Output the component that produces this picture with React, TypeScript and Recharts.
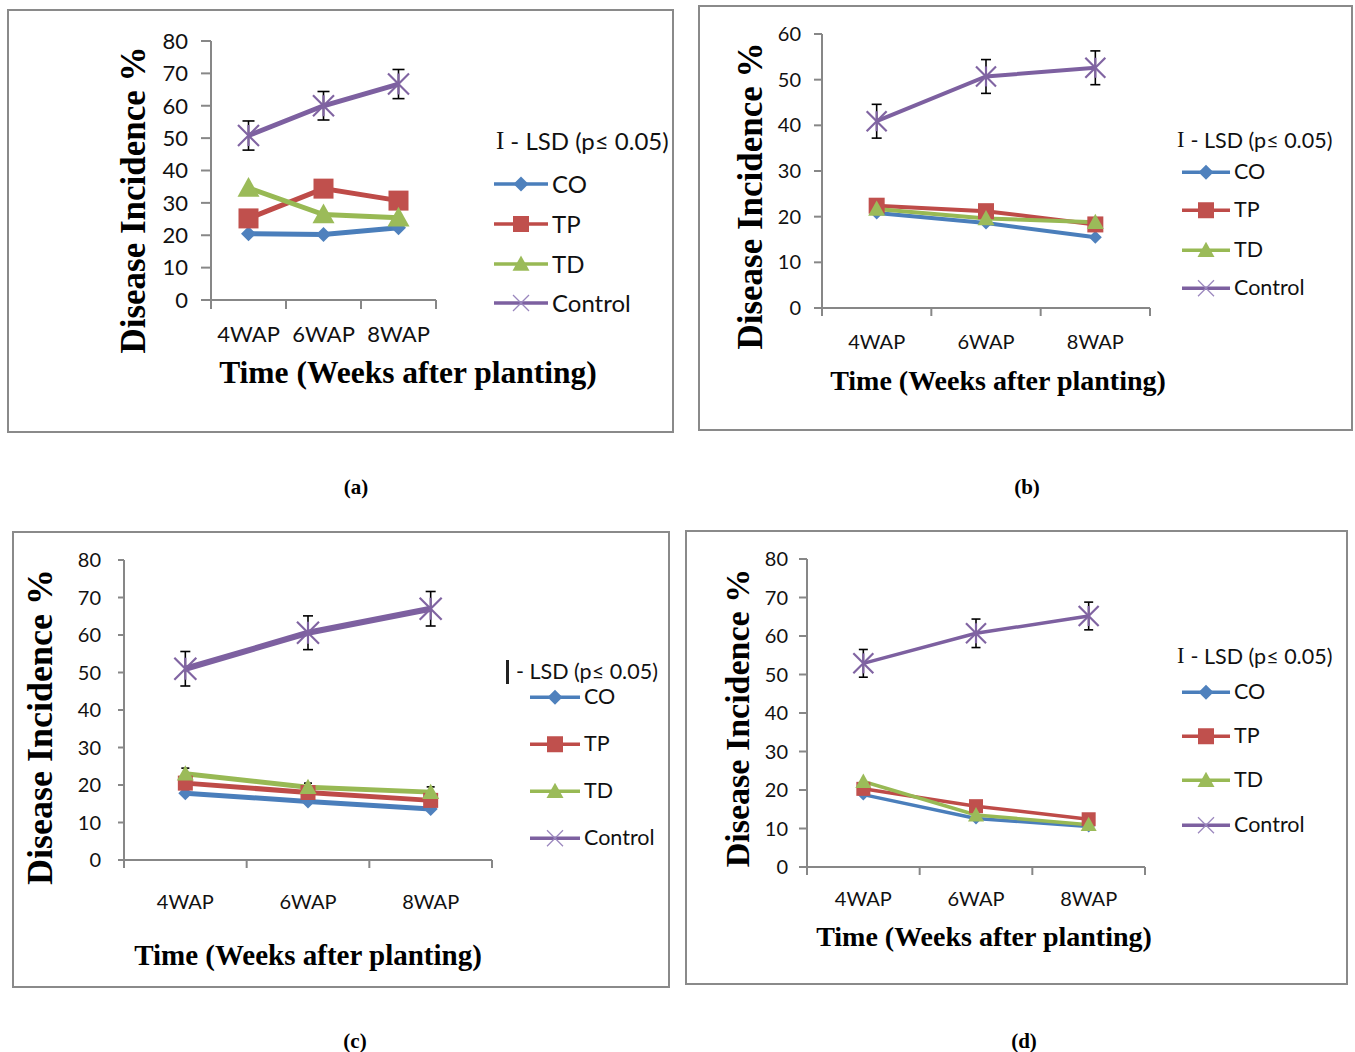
import React from "react";
import { ErrorBar, Line, LineChart, XAxis, YAxis } from "recharts";

const weeks = ["4WAP", "6WAP", "8WAP"];

// (a)
const coA = [20.5, 20.2, 22.3];
const tpA = [25.2, 34.4, 30.7];
const tdA = [34.6, 26.4, 25.4];
const controlA = [50.8, 60.0, 66.7];
const controlErrA = [4.5, 4.4, 4.5];

// (b)
const coB = [20.8, 18.6, 15.5];
const tpB = [22.4, 21.2, 18.3];
const tdB = [21.7, 19.6, 18.8];
const controlB = [40.9, 50.7, 52.6];
const controlErrB = [3.7, 3.7, 3.7];

// (c)
const coC = [17.8, 15.6, 13.6];
const tpC = [20.5, 18.0, 15.9];
const tdC = [23.0, 19.4, 18.1];
const tdErrC = [1.5, 1.1, 1.4];
const controlC = [51.0, 60.6, 67.0];
const controlErrC = [4.6, 4.5, 4.6];

// (d)
const coD = [18.8, 12.6, 10.5];
const tpD = [20.3, 15.8, 12.4];
const tdD = [22.2, 13.5, 11.0];
const controlD = [52.9, 60.7, 65.2];
const controlErrD = [3.6, 3.7, 3.6];

const ticks80 = [0, 10, 20, 30, 40, 50, 60, 70, 80];
const ticks60 = [0, 10, 20, 30, 40, 50, 60];
const seriesNames = ["CO", "TP", "TD", "Control"];

const AXIS = "#878787";
const SANS = "Lato, 'Open Sans', sans-serif";
const SERIF = "'Liberation Serif', 'Times New Roman', serif";

const COLORS: Record<string, { line: string; mark: string }> = {
  co: { line: "#4A7EBB", mark: "#4F81BD" },
  tp: { line: "#BE4B48", mark: "#C0504D" },
  td: { line: "#98B954", mark: "#9BBB59" },
  control: { line: "#7D60A0", mark: "#8064A2" },
};

function buildRows(co: number[], tp: number[], td: number[], control: number[], controlErr: number[], tdErr?: number[]) {
  return weeks.map((week, i) => ({
    week,
    co: co[i],
    tp: tp[i],
    td: td[i],
    tdErr: tdErr ? tdErr[i] : 0,
    control: control[i],
    controlErr: controlErr[i],
  }));
}

type Marks = { dia: number; sq: number; tri: number; star: number };

function marker(kind: string, size: number, color: string, cx: number, cy: number, key?: React.Key, thin = false) {
  const h = size / 2;
  if (kind === "co") {
    return <polygon key={key} points={`${cx},${cy - h} ${cx + h},${cy} ${cx},${cy + h} ${cx - h},${cy}`} fill={color} />;
  }
  if (kind === "tp") {
    return <rect key={key} x={cx - h} y={cy - h} width={size} height={size} fill={color} />;
  }
  if (kind === "td") {
    return <polygon key={key} points={`${cx},${cy - h} ${cx + h},${cy + h * 0.8} ${cx - h},${cy + h * 0.8}`} fill={color} />;
  }
  const sw = thin ? 1.2 : 2.2;
  return (
    <g key={key} stroke={color} strokeWidth={sw}>
      <line x1={cx - h} y1={cy - h} x2={cx + h} y2={cy + h} />
      <line x1={cx - h} y1={cy + h} x2={cx + h} y2={cy - h} />
      {!thin && <line x1={cx} y1={cy - h} x2={cx} y2={cy + h} />}
    </g>
  );
}

type Panel = {
  tag: string;
  box: [number, number, number, number];
  plot: [number, number, number, number];
  yMax: number;
  yTicks: number[];
  rows: ReturnType<typeof buildRows>;
  tickFont: number;
  yTickLen: number;
  yTickGap: number;
  xTickLen: number;
  xLabelDy: number;
  lineW: number;
  ctrlW: number;
  marks: Marks;
  cap: number;
  tdCap?: number;
  yTitle: [number, number, number];
  xTitle: [number, number, number];
  legendHeader: [number, number];
  legendRows: number[];
  legendLine: [number, number];
  legendFont: number;
  barHeader?: boolean;
  tagPos: [number, number];
};

const panels: Panel[] = [
  {
    tag: "(a)",
    box: [7, 9, 667, 424],
    plot: [211, 41, 436, 300],
    yMax: 80,
    yTicks: ticks80,
    rows: buildRows(coA, tpA, tdA, controlA, controlErrA),
    tickFont: 22,
    yTickLen: 10,
    yTickGap: 13,
    xTickLen: 9,
    xLabelDy: 33,
    lineW: 5,
    ctrlW: 5,
    marks: { dia: 15, sq: 20, tri: 22, star: 21 },
    cap: 6,
    yTitle: [133, 200, 35],
    xTitle: [408, 373, 31.5],
    legendHeader: [496, 140],
    legendRows: [184, 224, 264, 303],
    legendLine: [494, 548],
    legendFont: 24,
    tagPos: [356, 487],
  },
  {
    tag: "(b)",
    box: [698, 5, 655, 426],
    plot: [822, 34, 1150, 308],
    yMax: 60,
    yTicks: ticks60,
    rows: buildRows(coB, tpB, tdB, controlB, controlErrB),
    tickFont: 20,
    yTickLen: 8,
    yTickGap: 13,
    xTickLen: 8,
    xLabelDy: 33,
    lineW: 4,
    ctrlW: 4,
    marks: { dia: 13, sq: 16, tri: 17, star: 20 },
    cap: 5,
    yTitle: [750, 196, 35],
    xTitle: [998, 381, 28],
    legendHeader: [1177, 140],
    legendRows: [172, 210, 250, 288],
    legendLine: [1182, 1230],
    legendFont: 21.5,
    tagPos: [1027, 487],
  },
  {
    tag: "(c)",
    box: [12, 531, 658, 457],
    plot: [124, 560, 492, 860],
    yMax: 80,
    yTicks: ticks80,
    rows: buildRows(coC, tpC, tdC, controlC, controlErrC, tdErrC),
    tickFont: 20,
    yTickLen: 6,
    yTickGap: 17,
    xTickLen: 8,
    xLabelDy: 41,
    lineW: 5,
    ctrlW: 6,
    marks: { dia: 14, sq: 15, tri: 17, star: 22 },
    cap: 5,
    tdCap: 4,
    yTitle: [40, 727, 36],
    xTitle: [308, 955, 29],
    legendHeader: [506, 672],
    legendRows: [697, 744, 791, 838],
    legendLine: [530, 580],
    legendFont: 21.5,
    barHeader: true,
    tagPos: [355, 1041],
  },
  {
    tag: "(d)",
    box: [685, 530, 663, 455],
    plot: [807, 559, 1145, 867],
    yMax: 80,
    yTicks: ticks80,
    rows: buildRows(coD, tpD, tdD, controlD, controlErrD),
    tickFont: 20,
    yTickLen: 8,
    yTickGap: 11,
    xTickLen: 8,
    xLabelDy: 31,
    lineW: 3.5,
    ctrlW: 3.5,
    marks: { dia: 12, sq: 14, tri: 16, star: 20 },
    cap: 4.5,
    yTitle: [738, 718, 34],
    xTitle: [984, 937, 28],
    legendHeader: [1177, 656],
    legendRows: [692, 736, 780, 825],
    legendLine: [1182, 1230],
    legendFont: 21.5,
    tagPos: [1024, 1041],
  },
];

const seriesKeys = ["co", "tp", "td", "control"];

function ChartPanel({ p }: { p: Panel }) {
  const [bl, bt, bw, bh] = p.box;
  const [pl, pt, pr, pb] = p.plot;
  const band = (pr - pl) / 3;

  const xTick = (props: any) => {
    const { x, y, payload, index } = props;
    return (
      <g>
        <line x1={x - band / 2} x2={x - band / 2} y1={y} y2={y + p.xTickLen} stroke={AXIS} strokeWidth={2} />
        {index === weeks.length - 1 && (
          <line x1={x + band / 2} x2={x + band / 2} y1={y} y2={y + p.xTickLen} stroke={AXIS} strokeWidth={2} />
        )}
        <text x={x} y={y + p.xLabelDy} textAnchor="middle" dominantBaseline="central" fill="#111" fontSize={p.tickFont} fontFamily={SANS}>
          {payload.value}
        </text>
      </g>
    );
  };

  return (
    <>
      <div
        style={{
          position: "absolute",
          left: bl,
          top: bt,
          width: bw,
          height: bh,
          boxSizing: "border-box",
          border: `2px solid #8a8a8a`,
        }}
      />
      <div style={{ position: "absolute", left: bl, top: bt }}>
        <LineChart
          width={bw}
          height={bh}
          data={p.rows}
          margin={{ top: pt - bt, right: bl + bw - pr, bottom: 0, left: 0 }}
        >
          <XAxis
            dataKey="week"
            height={bt + bh - pb}
            padding={{ left: band / 2, right: band / 2 }}
            axisLine={{ stroke: AXIS, strokeWidth: 2 }}
            tickLine={false}
            tickSize={0}
            tickMargin={0}
            interval={0}
            tick={xTick}
          />
          <YAxis
            width={pl - bl}
            domain={[0, p.yMax]}
            ticks={p.yTicks}
            interval={0}
            allowDataOverflow
            axisLine={{ stroke: AXIS, strokeWidth: 2 }}
            tickLine={{ stroke: AXIS, strokeWidth: 2 }}
            tickSize={p.yTickLen}
            tickMargin={p.yTickGap}
            tick={{ fill: "#111", fontSize: p.tickFont, fontFamily: SANS }}
          />
          {seriesKeys.map((k) => {
            const size = k === "co" ? p.marks.dia : k === "tp" ? p.marks.sq : k === "td" ? p.marks.tri : p.marks.star;
            return (
              <Line
                key={k}
                dataKey={k}
                type="linear"
                stroke={COLORS[k].line}
                strokeWidth={k === "control" ? p.ctrlW : p.lineW}
                isAnimationActive={false}
                activeDot={false}
                dot={(d: any) => marker(k, size, COLORS[k].mark, d.cx, d.cy, d.key ?? `${k}-${d.index}`)}
              >
                {k === "control" && (
                  <ErrorBar dataKey="controlErr" direction="y" width={p.cap} stroke="#000" strokeWidth={1.6} isAnimationActive={false} />
                )}
                {k === "td" && p.tdCap && (
                  <ErrorBar dataKey="tdErr" direction="y" width={p.tdCap} stroke="#000" strokeWidth={1.6} isAnimationActive={false} />
                )}
              </Line>
            );
          })}
        </LineChart>
      </div>

      <div
        style={{
          position: "absolute",
          left: p.yTitle[0],
          top: p.yTitle[1],
          transform: "translate(-50%, -50%) rotate(-90deg)",
          whiteSpace: "nowrap",
          fontFamily: SERIF,
          fontWeight: 700,
          fontSize: p.yTitle[2],
          lineHeight: 1,
          color: "#000",
        }}
      >
        Disease Incidence %
      </div>
      <div
        style={{
          position: "absolute",
          left: p.xTitle[0],
          top: p.xTitle[1],
          transform: "translate(-50%, -50%)",
          whiteSpace: "nowrap",
          fontFamily: SERIF,
          fontWeight: 700,
          fontSize: p.xTitle[2],
          lineHeight: 1,
          color: "#000",
        }}
      >
        Time (Weeks after planting)
      </div>

      <div
        style={{
          position: "absolute",
          left: p.legendHeader[0],
          top: p.legendHeader[1],
          transform: "translateY(-50%)",
          whiteSpace: "nowrap",
          fontFamily: SANS,
          fontSize: p.legendFont,
          lineHeight: 1,
          color: "#111",
          display: "flex",
          alignItems: "center",
        }}
      >
        {p.barHeader ? (
          <span style={{ display: "inline-block", width: 3, height: 24, background: "#222", marginRight: 7 }} />
        ) : (
          <span style={{ fontFamily: SERIF, fontSize: p.legendFont + 1, marginRight: 6 }}>I</span>
        )}
        <span>- LSD (p≤ 0.05)</span>
      </div>

      {seriesKeys.map((k, i) => {
        const [x1, x2] = p.legendLine;
        const w = x2 - x1;
        const size = k === "co" ? 15 : k === "tp" ? 16 : k === "td" ? 17 : 16;
        return (
          <div
            key={k}
            style={{
              position: "absolute",
              left: x1,
              top: p.legendRows[i],
              transform: "translateY(-50%)",
              display: "flex",
              alignItems: "center",
              whiteSpace: "nowrap",
            }}
          >
            <svg width={w} height={20} style={{ display: "block" }}>
              <line x1={0} y1={10} x2={w} y2={10} stroke={COLORS[k].line} strokeWidth={3.5} />
              {marker(k, size, k === "control" ? "#9a86bd" : COLORS[k].mark, w / 2, 10, undefined, k === "control")}
            </svg>
            <span style={{ fontFamily: SANS, fontSize: p.legendFont, color: "#111", marginLeft: 4, lineHeight: 1 }}>
              {seriesNames[i]}
            </span>
          </div>
        );
      })}

      <div
        style={{
          position: "absolute",
          left: p.tagPos[0],
          top: p.tagPos[1],
          transform: "translate(-50%, -50%)",
          fontFamily: SERIF,
          fontWeight: 700,
          fontSize: 21,
          lineHeight: 1,
          color: "#000",
        }}
      >
        {p.tag}
      </div>
    </>
  );
}

export default function App() {
  return (
    <div style={{ position: "absolute", left: 0, top: 0, width: 1355, height: 1052, background: "#fff" }}>
      {panels.map((p) => (
        <ChartPanel key={p.tag} p={p} />
      ))}
    </div>
  );
}
